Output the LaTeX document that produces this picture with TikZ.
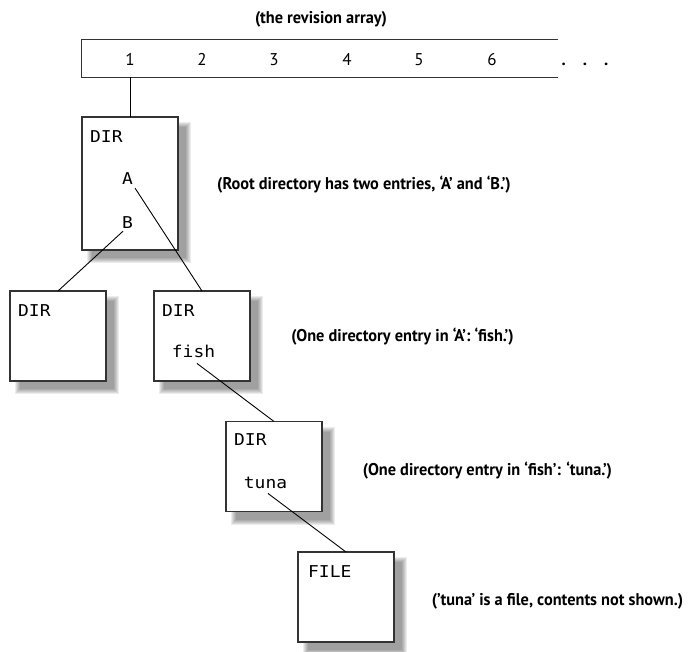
\documentclass[tikz,border=0pt]{standalone}
\usepackage{fontspec}
\newfontfamily\monof{DejaVu Sans Mono}[FakeStretch=1.1]
\newfontfamily\numf{PT Sans}
\newfontfamily\notef{PT Sans}[FakeStretch=0.96]
\newcommand\boxshadow[1]{%
  \foreach \e in {4,3,2,1,0,-1}{%
    \fill[black,opacity=0.075] ([shift={(9-\e,9-\e)}]#1.north west) rectangle ([shift={(9+\e,9+\e)}]#1.south east);
  }}
\tikzset{
  dirbox/.style={draw=black!80, line width=1.1pt, fill=white, minimum width=96pt, minimum height=90pt, inner sep=0pt, outer sep=0pt},
  mono/.style={font=\monof\fontsize{16.3}{16.3}\selectfont, inner sep=0pt, anchor=base west},
  note/.style={font=\notef\bfseries\fontsize{17}{17}\selectfont, inner sep=0pt, anchor=base},
  num/.style={font=\numf\fontsize{17}{17}\selectfont, inner sep=0pt, anchor=base},
  link/.style={line width=0.9pt, black},
  arrline/.style={line width=1.1pt, black!80},
}
\begin{document}
\begin{tikzpicture}[x=1pt,y=-1pt]
\useasboundingbox (0,0) rectangle (688,651);
% revision array
\node[inner sep=0pt, minimum width=476pt, minimum height=37pt] (arr) at (320,58.5) {};
\draw[arrline] (arr.north east) -- (arr.north west) -- (arr.south west) -- (arr.south east);
\node[note] (title) at (321,23) {(the revision array)};
\node[num] (n1) at (130,65) {1};
\node[num] (n2) at (202,65) {2};
\node[num] (n3) at (274,65) {3};
\node[num] (n4) at (347,65) {4};
\node[num] (n5) at (419,65) {5};
\node[num] (n6) at (492,65) {6};
\node[num] (dots) at (585,65) {\textbf{.}\hspace{17pt}\textbf{.}\hspace{17pt}\textbf{.}};
% boxes
\path (130,183.5) node[dirbox, minimum height=133pt] (root) {};
\path (58,336) node[dirbox] (L) {};
\path (202,336) node[dirbox] (M) {};
\path (274,466.5) node[dirbox] (F) {};
\path (346,597) node[dirbox] (T) {};
\boxshadow{root}\boxshadow{L}\boxshadow{M}\boxshadow{F}\boxshadow{T}
\path (130,183.5) node[dirbox, minimum height=133pt] {};
\path (58,336) node[dirbox] {};
\path (202,336) node[dirbox] {};
\path (274,466.5) node[dirbox] {};
\path (346,597) node[dirbox] {};
% texts in boxes
\node[mono] (rootdir) at (90,142) {DIR};
\node[mono, anchor=base] (A) at (127.5,184) {A};
\node[mono, anchor=base] (B) at (127.5,228) {B};
\node[mono] (Ldir) at (18,316) {DIR};
\node[mono] (Mdir) at (162,316) {DIR};
\node[mono, anchor=base] (fish) at (193.5,357) {fish};
\node[mono] (Fdir) at (234,445) {DIR};
\node[mono, anchor=base] (tuna) at (265.5,488) {tuna};
\node[mono] (file) at (308,577) {FILE};
% connectors
\draw[link] (arr.south -| root.north) -- (root.north);
\draw[link] ([shift={(2,4)}]A.south east) -- (M.north);
\draw[link] ([shift={(-4.5,3)}]B.south) -- (L.north);
\draw[link] ([shift={(3.5,6)}]fish.south) -- (F.north);
\draw[link] ([shift={(2.5,5)}]tuna.south) -- (T.north);
% annotations
\node[note] (nroot) at (364,189) {(Root directory has two entries, ‘A’ and ‘B.’)};
\node[note] (nfish) at (402.5,341) {(One directory entry in ‘A’: ‘fish.’)};
\node[note] (ntuna) at (487.5,475) {(One directory entry in ‘fish’: ‘tuna.’)};
\node[note] (nfile) at (557.5,605) {(’tuna’ is a file, contents not shown.)};
\end{tikzpicture}
\end{document}
